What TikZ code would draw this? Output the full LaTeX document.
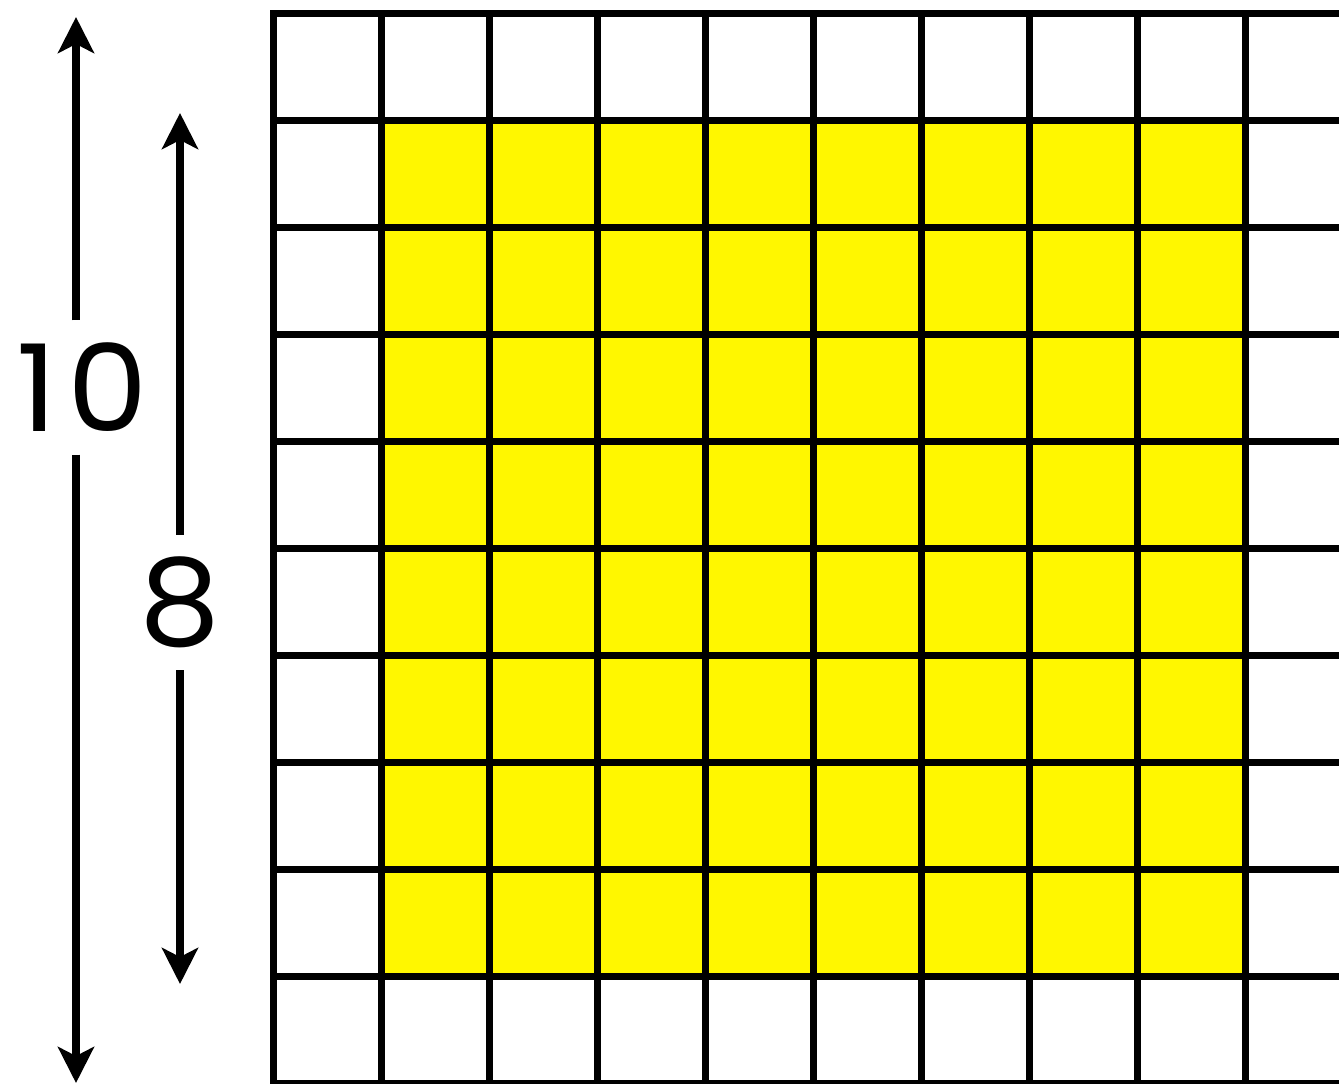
\documentclass[tikz,border=0pt]{standalone}
\usepackage{fontspec}
\setmainfont{Poppins}
\newfontfamily\dimfont[FakeStretch=1.06]{Poppins}
\usetikzlibrary{arrows.meta}
\definecolor{gridyellow}{RGB}{255,247,0}
\begin{document}
\begin{tikzpicture}[x=1pt,y=-1pt,
  gridline/.style={line width=7pt, black},
  dimarrow/.style={line width=8pt, -{Stealth[length=36pt,width=36pt,inset=9pt]}},
  dimlabel/.style={font=\dimfont\fontsize{121}{121}\selectfont, inner sep=0pt}]
\useasboundingbox (0,0) rectangle (1339,1084);
\begin{scope}
  \clip (0,0) rectangle (1339,1084);
  \fill[gridyellow] (381.5,120.5) rectangle (1246,976.5);
  \foreach \i in {0,...,10} \draw[gridline] (270,13.5+107*\i) -- (1345,13.5+107*\i);
  \foreach \j in {0,...,9} \draw[gridline] (273.5+108.05*\j,10) -- (273.5+108.05*\j,1087);
\end{scope}
\node[dimlabel, minimum height=134pt] (ten) at (82.5,387.5) {1\kern10pt0};
\coordinate (tenTop) at (76,17);
\coordinate (tenBot) at (76,1083);
\draw[dimarrow] (ten.north -| tenTop) -- (tenTop);
\draw[dimarrow] (ten.south -| tenBot) -- (tenBot);
\node[dimlabel, minimum height=135pt] (eight) at (180,602.5) {8};
\coordinate (eightTop) at (180,113);
\coordinate (eightBot) at (180,984);
\draw[dimarrow] (eight.north -| eightTop) -- (eightTop);
\draw[dimarrow] (eight.south -| eightBot) -- (eightBot);
\end{tikzpicture}
\end{document}
